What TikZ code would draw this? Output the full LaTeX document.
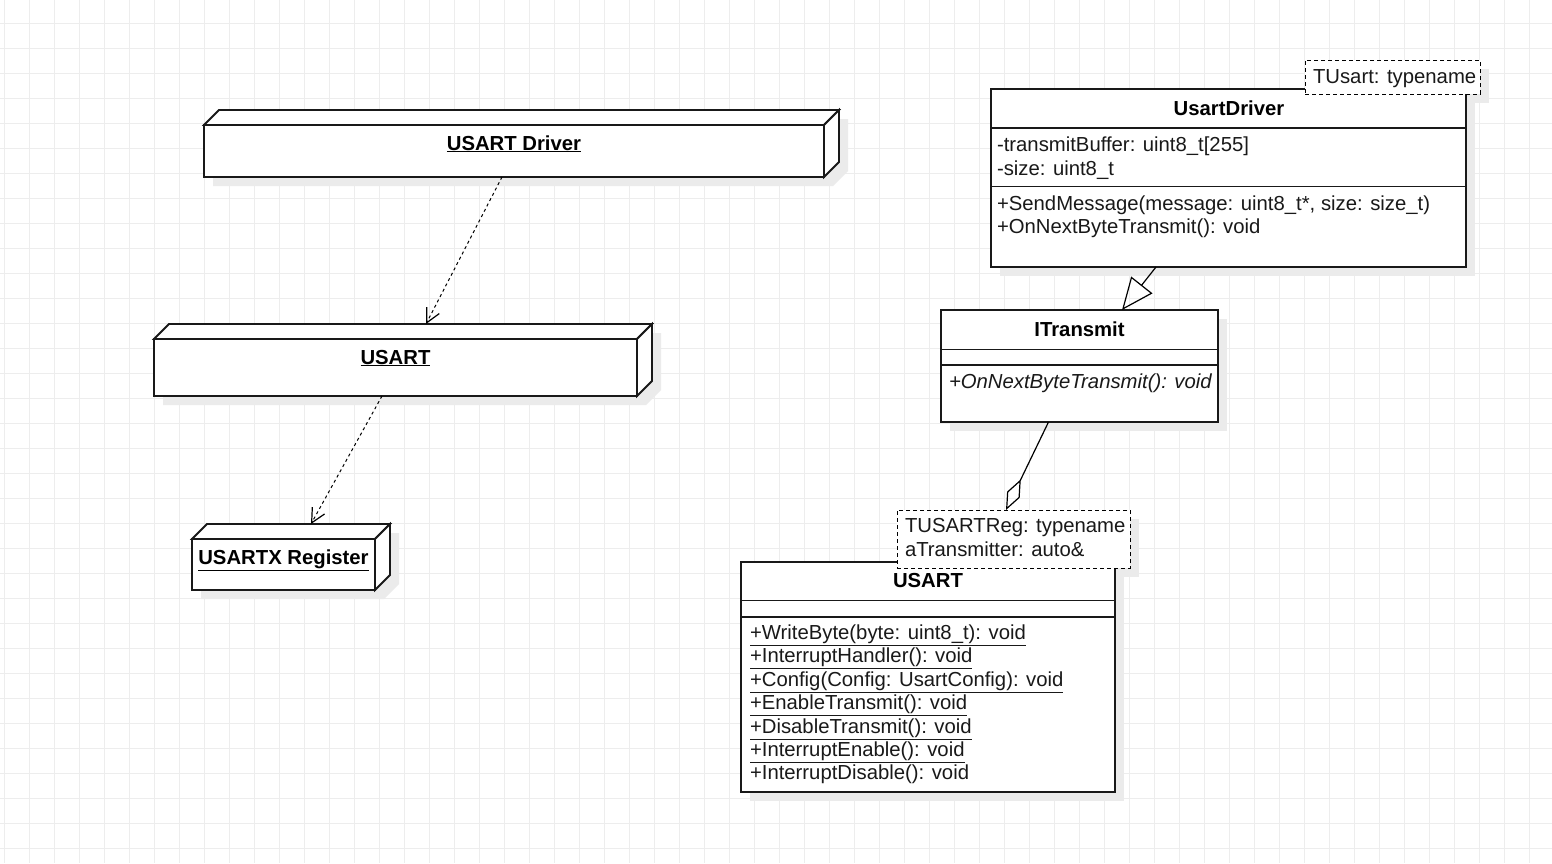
\documentclass[tikz,border=0pt]{standalone}
\usepackage{fontspec}
\setmainfont{Liberation Sans}
\usetikzlibrary{arrows.meta,fit}

% UML deployment node: front face (#2,#3)-(#4,#5), 15pt deep, bold underlined name
\newcommand\deploynode[6]{%
  \fill[shadowfill] (#2+9,#5+9) -- (#2+9,#3+9) -- (#2+24,#3-6) -- (#4+24,#3-6)
    -- (#4+24,#5-6) -- (#4+9,#5+9) -- cycle;
  \node[bbox, fit={(#2,#3-15) (#4+15,#5)}] (#1) {};
  \draw[face] (#2,#3) rectangle (#4,#5);
  \draw[face] (#2,#3) -- (#2+15,#3-15) -- (#4+15,#3-15) -- (#4,#3) -- cycle;
  \draw[face] (#4,#3) -- (#4+15,#3-15) -- (#4+15,#5-15) -- (#4,#5) -- cycle;
  \node[ttl] (#1-name) at ({(#2+#4)/2},{#3+25}) {\underline{#6}};
}
% drop shadow of a rectangular box
\newcommand\boxshadow[4]{\fill[shadowfill] (#1+9,#2+9) rectangle (#3+9,#4+9);}

\begin{document}
\begin{tikzpicture}[x=1pt,y=-1pt,
  font=\fontsize{20.3}{24}\selectfont,
  gridline/.style={draw=black!7, line width=1pt},
  shadowfill/.style={fill=black!8},
  bbox/.style={inner sep=0pt, outer sep=0pt},
  face/.style={draw=black!90, line width=1.8pt, fill=white, line join=miter},
  classbox/.style={bbox, draw=black!90, line width=1.8pt, fill=white},
  tmplbox/.style={bbox, draw=black, line width=1pt, dash pattern=on 4pt off 3pt, fill=white},
  sep/.style={draw=black!90, line width=1.8pt},
  lt/.style={inner sep=0pt, outer sep=0pt, anchor=base west, text=black!90},
  ttl/.style={inner sep=0pt, outer sep=0pt, anchor=base, text=black, font=\fontsize{20.3}{24}\selectfont\bfseries},
  dep/.style={draw=black, line width=1pt, dash pattern=on 3pt off 3pt,
    -{Straight Barb[length=14pt,width=14pt,line width=1.2pt]}},
  gen/.style={draw=black, line width=1.2pt, -{Triangle[open,length=32pt,width=27pt,line width=1.2pt]}},
  agg/.style={draw=black, line width=1.2pt, -{Diamond[open,length=34pt,width=14pt,line width=1.2pt]}},
]
\useasboundingbox (0,0) rectangle (1552,863);
\fill[white] (0,0) rectangle (1552,863);

% background grid
\foreach \gx in {4,29,...,1552} \draw[gridline] (\gx,0) -- (\gx,863);
\foreach \gy in {23.3,48.3,...,863} \draw[gridline] (0,\gy) -- (1552,\gy);

% ---------- deployment view ----------
\deploynode{drv}{204}{125}{824}{177}{USART Driver}
\deploynode{hw}{154}{339}{637}{396}{USART}
\deploynode{reg}{192}{539}{375}{590}{USARTX Register}

\draw[dep] ([xshift=-19.5pt]drv.south) -- ([xshift=23pt]hw.north);
\draw[dep] ([xshift=-21pt]hw.south) -- ([xshift=20pt]reg.north);

% ---------- class view ----------
\boxshadow{991}{89}{1466}{267}
\boxshadow{1305}{60}{1480}{94}
\boxshadow{941}{310}{1218}{422}
\boxshadow{741}{562}{1115}{792}
\boxshadow{897}{510}{1130}{568}

% UsartDriver
\node[classbox, fit={(991,89) (1466,267)}] (udrv) {};
\draw[sep] (991,128) -- (1466,128);
\draw[sep] (991,186.5) -- (1466,186.5);
\node[ttl] (udrvT) at (1229,115) {UsartDriver};
\node[lt] (udrvA1) at (997,151) {-transmitBuffer: uint8\_t[255]};
\node[lt] (udrvA2) at (997,175) {-size: uint8\_t};
\node[lt] (udrvM1) at (997,210) {+SendMessage(message: uint8\_t*, size: size\_t)};
\node[lt] (udrvM2) at (997,233) {+OnNextByteTransmit(): void};
\node[tmplbox, fit={(1305,60) (1480,94)}] (udrvP) {};
\node[lt] (udrvPT) at (1313,83) {TUsart: typename};

% ITransmit
\node[classbox, fit={(941,310) (1218,422)}] (itx) {};
\draw[sep] (941,349.5) -- (1218,349.5);
\draw[sep] (941,365) -- (1218,365);
\node[ttl] (itxT) at (1079.5,336) {ITransmit};
\node[lt, font=\fontsize{20.3}{24}\selectfont\itshape] (itxM1) at (949,388) {+OnNextByteTransmit(): void};

% USART
\node[classbox, fit={(741,562) (1115,792)}] (usart) {};
\draw[sep] (741,600.5) -- (1115,600.5);
\draw[sep] (741,617) -- (1115,617);
\node[ttl] (usartT) at (928,587) {USART};
\node[lt] (usartM1) at (750,639.5) {\underline{+WriteByte(byte: uint8\_t): void}};
\node[lt] (usartM2) at (750,662.9) {\underline{+InterruptHandler(): void}};
\node[lt] (usartM3) at (750,686.3) {\underline{+Config(Config: UsartConfig): void}};
\node[lt] (usartM4) at (750,709.7) {\underline{+EnableTransmit(): void}};
\node[lt] (usartM5) at (750,733.1) {\underline{+DisableTransmit(): void}};
\node[lt] (usartM6) at (750,756.5) {\underline{+InterruptEnable(): void}};
\node[lt] (usartM7) at (750,779.9) {+InterruptDisable(): void};
\node[tmplbox, fit={(897,510) (1130,568)}] (usartP) {};
\node[lt] (usartP1) at (905,532) {TUSARTReg: typename};
\node[lt] (usartP2) at (905,556.5) {aTransmitter: auto\&};

% relations
\draw[gen] ([xshift=-72.5pt]udrv.south) -- ([xshift=42.5pt]itx.north);
\draw[agg] ([xshift=-31pt]itx.south) -- ([xshift=-7.5pt]usartP.north);
\end{tikzpicture}
\end{document}
